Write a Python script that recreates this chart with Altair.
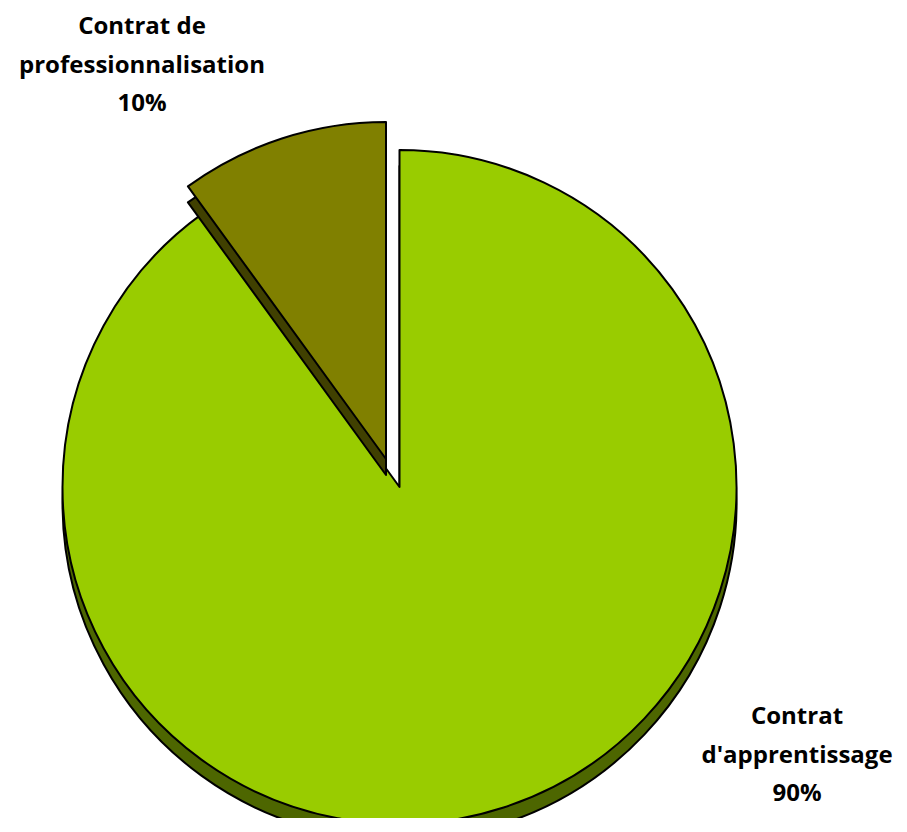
import altair as alt
import pandas as pd

categories = ["Contrat d'apprentissage", "Contrat de professionnalisation"]
label_lines = [["Contrat", "d'apprentissage"], ["Contrat de", "professionnalisation"]]
shares = [90, 10]
order = [0, 1]

df = pd.DataFrame({
    "category": categories,
    "share": shares,
    "order": order,
    "label": ["\n".join(l + [f"{s}%"]) for l, s in zip(label_lines, shares)],
})

W, H = 885, 810
R = 337
DEPTH = 16
BIG = (391.5, 479)
SMALL = (378, 451)

base = alt.Chart(df)


def slice_layer(cat, cx, cy, fill):
    return base.mark_arc(radius=R, stroke="black", strokeWidth=2, strokeJoin="round").encode(
        theta=alt.Theta("share:Q", stack=True),
        order=alt.Order("order:Q"),
        x=alt.value(cx),
        y=alt.value(cy),
        fill=alt.value(fill),
        opacity=alt.condition(alt.datum.category == cat, alt.value(1), alt.value(0)),
    )


big_depth = slice_layer(categories[0], BIG[0], BIG[1] + DEPTH, "#4D6600")
big_top = slice_layer(categories[0], BIG[0], BIG[1], "#99CC00")
small_depth = slice_layer(categories[1], SMALL[0], SMALL[1] + DEPTH, "#404000")
small_top = slice_layer(categories[1], SMALL[0], SMALL[1], "#808000")


def label_layer(cat, x, y):
    return base.transform_filter(alt.datum.category == cat).mark_text(
        font="Open Sans", fontWeight="bold", fontSize=24, lineBreak="\n", lineHeight=38.5,
        align="center", baseline="top", color="black",
    ).encode(text="label:N", x=alt.value(x), y=alt.value(y))


lab_big = label_layer(categories[0], 789, 697)
lab_small = label_layer(categories[1], 134, 7)

chart = alt.layer(big_depth, big_top, small_depth, small_top, lab_big, lab_small).properties(
    width=W, height=H, padding=0, autosize=alt.AutoSizeParams(type="none")
).configure_view(stroke=None)

chart.save("out.html", embed_options={"renderer": "svg", "actions": False})
